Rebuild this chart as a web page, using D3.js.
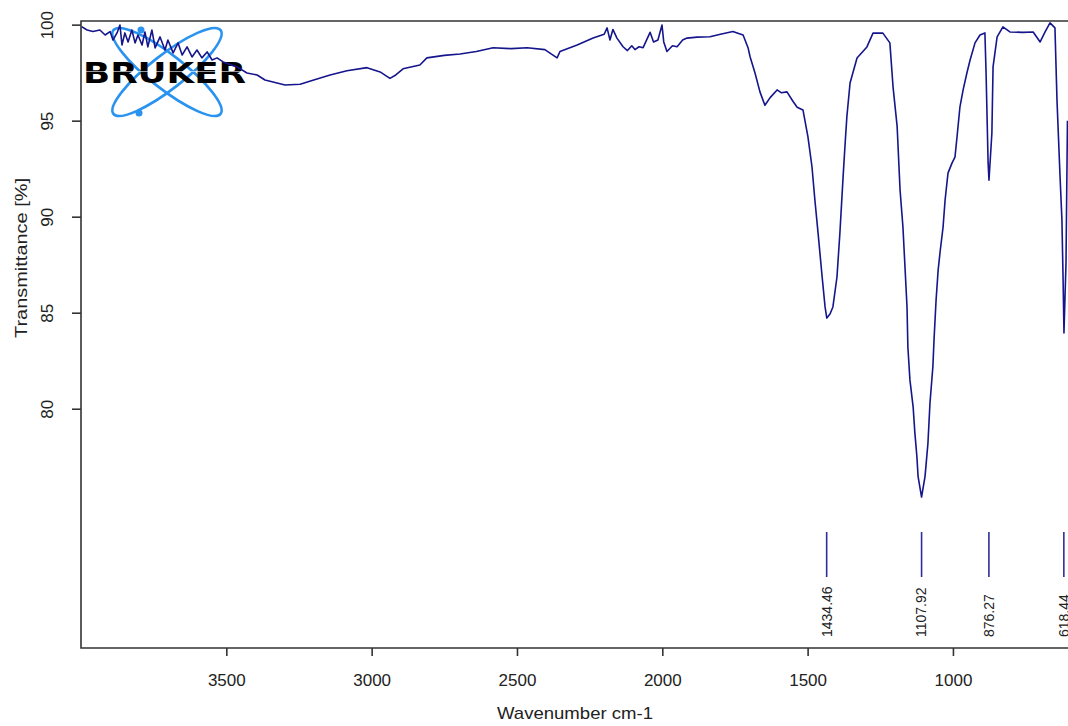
<!DOCTYPE html>
<html>
<head>
<meta charset="utf-8">
<script src="https://cdn.jsdelivr.net/npm/d3@7"></script>
<style>
  body { margin: 0; background: #fff; }
  .axis-text { font-family: "Liberation Sans", Arial, sans-serif; fill: #222; }
</style>
</head>
<body>
<div id="chart"></div>
<script>
// spectrum (wavenumber cm-1 / transmittance %)
const wavenumber = [
  3998, 3979, 3959, 3935, 3917, 3900, 3890, 3876, 3866, 3859, 3849, 3838, 3825, 3814, 3804,
  3790, 3780, 3770, 3756, 3745, 3728, 3711, 3701, 3683, 3666, 3652, 3635, 3618, 3601, 3584,
  3566, 3549, 3532, 3511, 3463, 3429, 3394, 3367, 3298, 3246, 3202, 3143, 3085, 3016, 2971,
  2937, 2920, 2892, 2834, 2810, 2750, 2696, 2640, 2582, 2520, 2465, 2404, 2362, 2352, 2293,
  2238, 2200, 2190, 2180, 2170, 2156, 2135, 2120, 2105, 2094, 2080, 2066, 2042, 2030, 2015,
  2001, 1995, 1984, 1965, 1949, 1930, 1915, 1880, 1836, 1800, 1757, 1740, 1722, 1705, 1698,
  1681, 1664, 1647, 1629, 1605, 1590, 1571, 1550, 1536, 1516, 1499, 1485, 1475, 1464, 1450,
  1440, 1434, 1423, 1413, 1399, 1389, 1378, 1371, 1365, 1354, 1330, 1296, 1275, 1241, 1217,
  1206, 1192, 1182, 1172, 1165, 1158, 1155, 1148, 1137, 1131, 1124, 1120, 1108, 1096, 1086,
  1079, 1069, 1065, 1058, 1051, 1044, 1034, 1027, 1017, 1003, 993, 986, 976, 965, 952,
  941, 924, 907, 890, 886, 879, 876, 866, 862, 848, 828, 804, 760, 724, 700,
  683, 666, 649, 642, 632, 625, 621, 618, 611, 606
];
const transmittance = [
  99.90, 99.72, 99.64, 99.72, 99.46, 99.64, 99.20, 99.57, 99.98, 98.94, 99.57, 99.10, 99.72, 99.05, 99.46,
  98.94, 99.62, 98.84, 99.72, 98.79, 99.36, 98.68, 99.20, 98.53, 99.05, 98.42, 98.84, 98.32, 98.68, 98.27,
  98.58, 98.16, 98.27, 98.06, 97.80, 97.48, 97.38, 97.12, 96.86, 96.90, 97.10, 97.38, 97.60, 97.76, 97.54,
  97.20, 97.35, 97.70, 97.90, 98.27, 98.40, 98.47, 98.60, 98.80, 98.75, 98.80, 98.70, 98.27, 98.60, 98.94,
  99.30, 99.50, 99.83, 99.20, 99.75, 99.30, 98.85, 98.65, 98.90, 98.70, 98.85, 98.80, 99.60, 99.10, 99.20,
  99.98, 99.10, 98.60, 98.90, 98.85, 99.20, 99.30, 99.35, 99.37, 99.50, 99.64, 99.55, 99.46, 98.80, 98.33,
  97.48, 96.50, 95.80, 96.20, 96.60, 96.45, 96.50, 96.00, 95.70, 95.56, 94.17, 92.60, 90.87, 89.14, 86.86,
  85.30, 84.72, 84.93, 85.30, 86.86, 89.14, 92.06, 93.80, 95.20, 96.96, 98.26, 98.84, 99.56, 99.56, 99.05,
  96.75, 94.70, 91.40, 89.45, 87.38, 85.30, 83.20, 81.50, 80.10, 78.74, 77.50, 76.48, 75.40, 76.48, 78.20,
  80.30, 82.20, 83.60, 85.66, 87.20, 88.20, 89.45, 90.87, 92.27, 92.80, 93.10, 94.15, 95.70, 96.60, 97.48,
  98.16, 99.05, 99.46, 99.57, 97.48, 92.80, 91.90, 94.36, 97.80, 99.36, 99.88, 99.62, 99.60, 99.62, 99.10,
  99.62, 100.09, 99.83, 96.07, 92.27, 89.82, 86.70, 83.94, 87.60, 95.00
];

const peakPositions = [1434.46, 1107.92, 876.27, 618.44];
const peakLabels = ["1434.46", "1107.92", "876.27", "618.44"];
const xTicks = [3500, 3000, 2500, 2000, 1500, 1000];
const yTicks = [80, 85, 90, 95, 100];

const width = 1068, height = 726;
const margin = { top: 21, left: 81, bottom: 78 };
const plotBottom = height - margin.bottom;

const svg = d3.select('#chart')
  .append('svg')
  .attr('width', width)
  .attr('height', height);

const x = d3.scaleLinear().domain([4000, 600]).range([margin.left, 1069.2]);
const y = d3.scaleLinear().domain([67.54, 100.19]).range([plotBottom, margin.top]);

svg.append('defs').append('clipPath').attr('id', 'plot-clip')
  .append('rect')
  .attr('x', margin.left).attr('y', margin.top)
  .attr('width', width - margin.left).attr('height', plotBottom - margin.top);

// bruker logo (orbits + word mark)
const logo = svg.append('g').attr('class', 'logo');
[38, -38].forEach(function(a) {
  logo.append('ellipse')
    .attr('cx', 0).attr('cy', 0).attr('rx', 68).attr('ry', 17)
    .attr('transform', 'translate(167,72) rotate(' + a + ')')
    .attr('fill', 'none')
    .attr('stroke', '#2a93f0')
    .attr('stroke-width', 2.6);
});
logo.append('circle').attr('cx', 141).attr('cy', 30).attr('r', 3.5).attr('fill', '#2a93f0');
logo.append('circle').attr('cx', 139).attr('cy', 113).attr('r', 3.5).attr('fill', '#2a93f0');
logo.append('text')
  .attr('x', 83).attr('y', 83)
  .attr('textLength', 163)
  .attr('lengthAdjust', 'spacingAndGlyphs')
  .style('font-family', '"DejaVu Sans", sans-serif')
  .style('font-weight', 'bold')
  .style('font-size', '28px')
  .attr('fill', '#000')
  .text('BRUKER');
logo.append('line')
  .attr('x1', 83).attr('x2', 246).attr('y1', 71.5).attr('y2', 71.5)
  .attr('stroke', '#fff').attr('stroke-opacity', 0.6).attr('stroke-width', 1);

// spectrum
const spectrum = wavenumber.map(function(w, i) { return { w: w, t: transmittance[i] }; });
svg.append('path')
  .datum(spectrum)
  .attr('clip-path', 'url(#plot-clip)')
  .attr('fill', 'none')
  .attr('stroke', '#15158c')
  .attr('stroke-width', 1.6)
  .attr('stroke-linejoin', 'round')
  .attr('d', d3.line().x(function(d) { return x(d.w); }).y(function(d) { return y(d.t); }));

// frame: left, top, bottom
svg.append('path')
  .attr('d', 'M' + (width + 2) + ',' + margin.top + 'H' + margin.left + 'V' + plotBottom + 'H' + (width + 2))
  .attr('fill', 'none')
  .attr('stroke', '#333')
  .attr('stroke-width', 1.6);

// x axis
const xAxis = svg.append('g')
  .attr('class', 'axis axis-x')
  .attr('transform', 'translate(0,' + plotBottom + ')')
  .call(d3.axisBottom(x).tickValues(xTicks).tickSize(8).tickPadding(18).tickFormat(d3.format('d')));
xAxis.select('.domain').remove();
xAxis.selectAll('line').attr('stroke', '#333').attr('stroke-width', 1.6);
xAxis.selectAll('text')
  .attr('class', 'axis-text')
  .style('font-size', '17px')
  .attr('fill', '#222');

// y axis
const yAxis = svg.append('g')
  .attr('class', 'axis axis-y')
  .attr('transform', 'translate(' + margin.left + ',0)')
  .call(d3.axisLeft(y).tickValues(yTicks).tickSize(9).tickFormat(d3.format('d')));
yAxis.select('.domain').remove();
yAxis.selectAll('line').attr('stroke', '#333').attr('stroke-width', 1.6);
yAxis.selectAll('text')
  .attr('class', 'axis-text')
  .style('font-size', '17px')
  .attr('fill', '#222')
  .attr('text-anchor', 'middle')
  .attr('x', 0).attr('y', 0).attr('dy', '0.35em')
  .attr('transform', 'translate(-34,0) rotate(-90)');

// axis titles
svg.append('text')
  .attr('class', 'axis-text')
  .attr('x', 575).attr('y', 719)
  .attr('text-anchor', 'middle')
  .attr('textLength', 156)
  .attr('lengthAdjust', 'spacingAndGlyphs')
  .style('font-size', '17px')
  .text('Wavenumber cm-1');
svg.append('text')
  .attr('class', 'axis-text')
  .attr('transform', 'translate(27,258) rotate(-90)')
  .attr('text-anchor', 'middle')
  .attr('textLength', 160)
  .attr('lengthAdjust', 'spacingAndGlyphs')
  .style('font-size', '17px')
  .text('Transmittance [%]');

// peak picks
const peaks = svg.append('g').attr('class', 'peaks');
peaks.selectAll('line')
  .data(peakPositions)
  .enter().append('line')
  .attr('x1', function(d) { return x(d); })
  .attr('x2', function(d) { return x(d); })
  .attr('y1', 532).attr('y2', 577)
  .attr('stroke', '#2e2e9a')
  .attr('stroke-width', 1.6);
peaks.selectAll('text')
  .data(peakPositions)
  .enter().append('text')
  .attr('class', 'axis-text')
  .attr('transform', function(d) { return 'translate(' + x(d) + ',637) rotate(-90)'; })
  .attr('dy', '0.35em')
  .attr('text-anchor', 'start')
  .style('font-size', '14px')
  .text(function(d, i) { return peakLabels[i]; });
</script>
</body>
</html>
